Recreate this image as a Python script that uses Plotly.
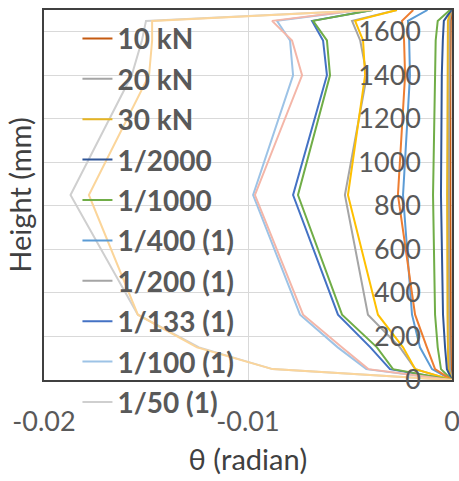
import plotly.graph_objects as go

# Heights (mm) at which rotations were measured
heights = [0, 50, 150, 300, 850, 1400, 1560, 1650, 1700]

# Rotation θ (radian) per load / drift level
kN10 = [0, -0.00005, -0.00006, -0.00007, -0.00008, -0.00008, -0.00007, -0.00006, -0.00002]
kN20 = [0, -0.0001, -0.00012, -0.00014, -0.00016, -0.00015, -0.00014, -0.00012, -0.00004]
kN30 = [0, -0.00018, -0.0002, -0.00022, -0.00024, -0.00023, -0.00022, -0.0002, -0.00006]
d2000 = [0, -0.00025, -0.00034, -0.00044, -0.00054, -0.0005, -0.00045, -0.0004, -0.00003]
d1000 = [0, -0.00054, -0.0007, -0.00083, -0.00093, -0.00083, -0.0008, -0.0007, -0.0001]
d400_1 = [0, -0.00098, -0.00157, -0.00196, -0.0024, -0.00206, -0.0021, -0.00216, -0.0012]
d200_1 = [0, -0.0018, -0.00255, -0.00412, -0.00525, -0.00417, -0.0045, -0.0049, -0.0027]
d133_1 = [0, -0.00304, -0.004, -0.00559, -0.00779, -0.00613, -0.00632, -0.00686, -0.0039]
d100_1 = [0, -0.0042, -0.0056, -0.00745, -0.00975, -0.00779, -0.00794, -0.00858, -0.0045]
d50_1 = [0, -0.0088, -0.0124, -0.0154, -0.0187, -0.0157, -0.0152, -0.0150, -0.0039]
d400_2 = [0, -0.00083, -0.00123, -0.00181, -0.00265, -0.0023, -0.00235, -0.00245, -0.0019]
d200_2 = [0, -0.0018, -0.0024, -0.00363, -0.0051, -0.00426, -0.00436, -0.00475, -0.0027]
d133_2 = [0, -0.00289, -0.00368, -0.00539, -0.00755, -0.00598, -0.00613, -0.00681, -0.0039]
d100_2 = [0, -0.0041, -0.0054, -0.0073, -0.00966, -0.00735, -0.00784, -0.00882, -0.0045]
d50_2 = [0, -0.0088, -0.0125, -0.0154, -0.0178, -0.01485, -0.0147, -0.0147, -0.0039]

series_names = ["10 kN", "20 kN", "30 kN", "1/2000", "1/1000", "1/400 (1)", "1/200 (1)",
                "1/133 (1)", "1/100 (1)", "1/50 (1)",
                "1/400 (2)", "1/200 (2)", "1/133 (2)", "1/100 (2)", "1/50 (2)"]
series_values = [kN10, kN20, kN30, d2000, d1000, d400_1, d200_1, d133_1, d100_1, d50_1,
                 d400_2, d200_2, d133_2, d100_2, d50_2]
series_colors = ["#C55A11", "#A5A5A5", "#E6B422", "#2F5597", "#70AD47", "#5B9BD5", "#A5A5A5",
                 "#4472C4", "#9DC3E6", "#CFCFCF",
                 "#ED7D31", "#FFC000", "#70AD47", "#F4B6A8", "#FBD59A"]
in_legend = [True] * 10 + [False] * 5

x_ticks = [-0.02, -0.01, 0]
x_ticktext = ["-0.02", "-0.01", "0"]
y_ticks = [0, 200, 400, 600, 800, 1000, 1200, 1400, 1600]
y_ticktext = [str(v) for v in y_ticks]

FONT = "Lato, 'Open Sans', sans-serif"

fig = go.Figure()
for name, vals, col, leg in zip(series_names, series_values, series_colors, in_legend):
    fig.add_trace(go.Scatter(
        x=vals, y=heights, mode="lines", name=name,
        line=dict(color=col, width=2), showlegend=leg,
        legendgroup=name, yaxis="y" if leg else "y2",
    ))

fig.update_layout(
    width=459, height=481,
    margin=dict(l=44, r=7, t=10, b=101),
    paper_bgcolor="white", plot_bgcolor="white",
    font=dict(family=FONT, color="#595959"),
    showlegend=True,
    legend=dict(
        x=0.082, y=0.99, xanchor="left", yanchor="top",
        bgcolor="rgba(0,0,0,0)", borderwidth=0,
        font=dict(family=FONT, size=28, color="#595959", weight="bold"),
        traceorder="grouped", tracegroupgap=1, maxheight=470,
    ),
    xaxis=dict(
        range=[-0.02, 0], tickvals=x_ticks, ticktext=x_ticktext,
        showgrid=True, gridcolor="#D9D9D9", gridwidth=1,
        zeroline=False, showline=True, linecolor="#404040", linewidth=1.5, mirror=True,
        ticks="", ticklabelstandoff=17, ticklabeloverflow="allow", automargin=False,
        tickfont=dict(family=FONT, size=27, color="#595959"),
        title=dict(text="θ (radian)", font=dict(family=FONT, size=29, color="#404040"), standoff=14),
    ),
    yaxis=dict(
        range=[0, 1700], tickvals=y_ticks, showticklabels=False,
        showgrid=True, gridcolor="#D9D9D9", gridwidth=1,
        zeroline=False, showline=True, linecolor="#404040", linewidth=1.5, mirror=True,
        ticks="", automargin=False,
        title=dict(text="Height (mm)", font=dict(family=FONT, size=29, color="#404040"), standoff=2),
    ),
    yaxis2=dict(
        overlaying="y", side="right", range=[0, 1700], matches="y",
        tickvals=y_ticks, ticktext=y_ticktext,
        ticklabelposition="inside", ticks="", ticklabelstandoff=28,
        ticklabeloverflow="allow", automargin=False,
        showgrid=False, zeroline=False, showline=False,
        tickfont=dict(family=FONT, size=27, color="#595959"),
    ),
)

fig.write_html("out.html")
